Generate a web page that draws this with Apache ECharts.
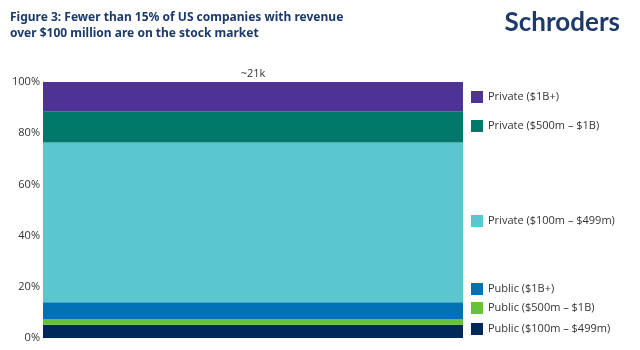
<!DOCTYPE html>
<html>
<head>
<meta charset="utf-8">
<script src="https://cdn.jsdelivr.net/npm/echarts@6/dist/echarts.min.js"></script>
<style>
  html, body { margin: 0; padding: 0; background: #fff; }
  #chart { width: 640px; height: 350px; }
</style>
</head>
<body>
<div id="chart"></div>
<script>
// bottom to top of the stack
const categories = ['~21k'];
const seriesNames = [
  'Public ($100m – $499m)',
  'Public ($500m – $1B)',
  'Public ($1B+)',
  'Private ($100m – $499m)',
  'Private ($500m – $1B)',
  'Private ($1B+)'
];
const seriesValues = [5.2, 2.2, 6.6, 62.4, 12.2, 11.4];
const seriesColors = ['#00285A', '#67C23A', '#0071B4', '#5AC7CE', '#00796B', '#4E3296'];
const yTicks = [0, 20, 40, 60, 80, 100];

// legend rows sit next to their segments
const legendTops = [323, 302, 283, 215, 120, 91];

const chart = echarts.init(document.getElementById('chart'));

const option = {
  backgroundColor: '#fff',
  animation: false,
  title: [
    {
      text: 'Figure 3: Fewer than 15% of US companies with revenue\nover $100 million are on the stock market',
      left: 10,
      top: 10,
      padding: 0,
      textStyle: {
        color: '#1B3A6B',
        fontFamily: 'Noto Sans',
        fontSize: 12,
        fontWeight: 'bold',
        lineHeight: 16
      }
    },
    {
      text: 'Schroders',
      right: 20,
      top: 10,
      padding: 0,
      textStyle: {
        color: '#1D3A6A',
        fontFamily: 'Lato',
        fontSize: 26,
        fontWeight: 'bold'
      }
    }
  ],
  legend: seriesNames.map((name, i) => ({
    data: [name],
    left: 471,
    top: legendTops[i],
    padding: 0,
    itemWidth: 12,
    itemHeight: 12,
    icon: 'rect',
    selectedMode: false,
    textStyle: { color: '#333', fontSize: 11, fontFamily: 'Open Sans' }
  })),
  grid: {
    left: 43,
    right: 177,
    top: 82,
    bottom: 12
  },
  xAxis: {
    type: 'category',
    data: categories,
    show: false
  },
  yAxis: {
    type: 'value',
    min: yTicks[0],
    max: yTicks[yTicks.length - 1],
    interval: 20,
    axisLine: { show: true, lineStyle: { color: '#cfd3d8' } },
    axisTick: { show: false },
    splitLine: { show: false },
    axisLabel: {
      formatter: '{value}%',
      color: '#333',
      fontSize: 11,
      fontFamily: 'Open Sans',
      margin: 3
    }
  },
  series: seriesNames.map((name, i) => ({
    name: name,
    type: 'bar',
    stack: 'total',
    barWidth: '100%',
    data: [seriesValues[i]],
    itemStyle: { color: seriesColors[i] },
    label: i === seriesNames.length - 1 ? {
      show: true,
      position: 'top',
      distance: 3,
      formatter: '{b}',
      color: '#333',
      fontSize: 11,
      fontFamily: 'Open Sans'
    } : { show: false }
  }))
};

chart.setOption(option);
</script>
</body>
</html>
